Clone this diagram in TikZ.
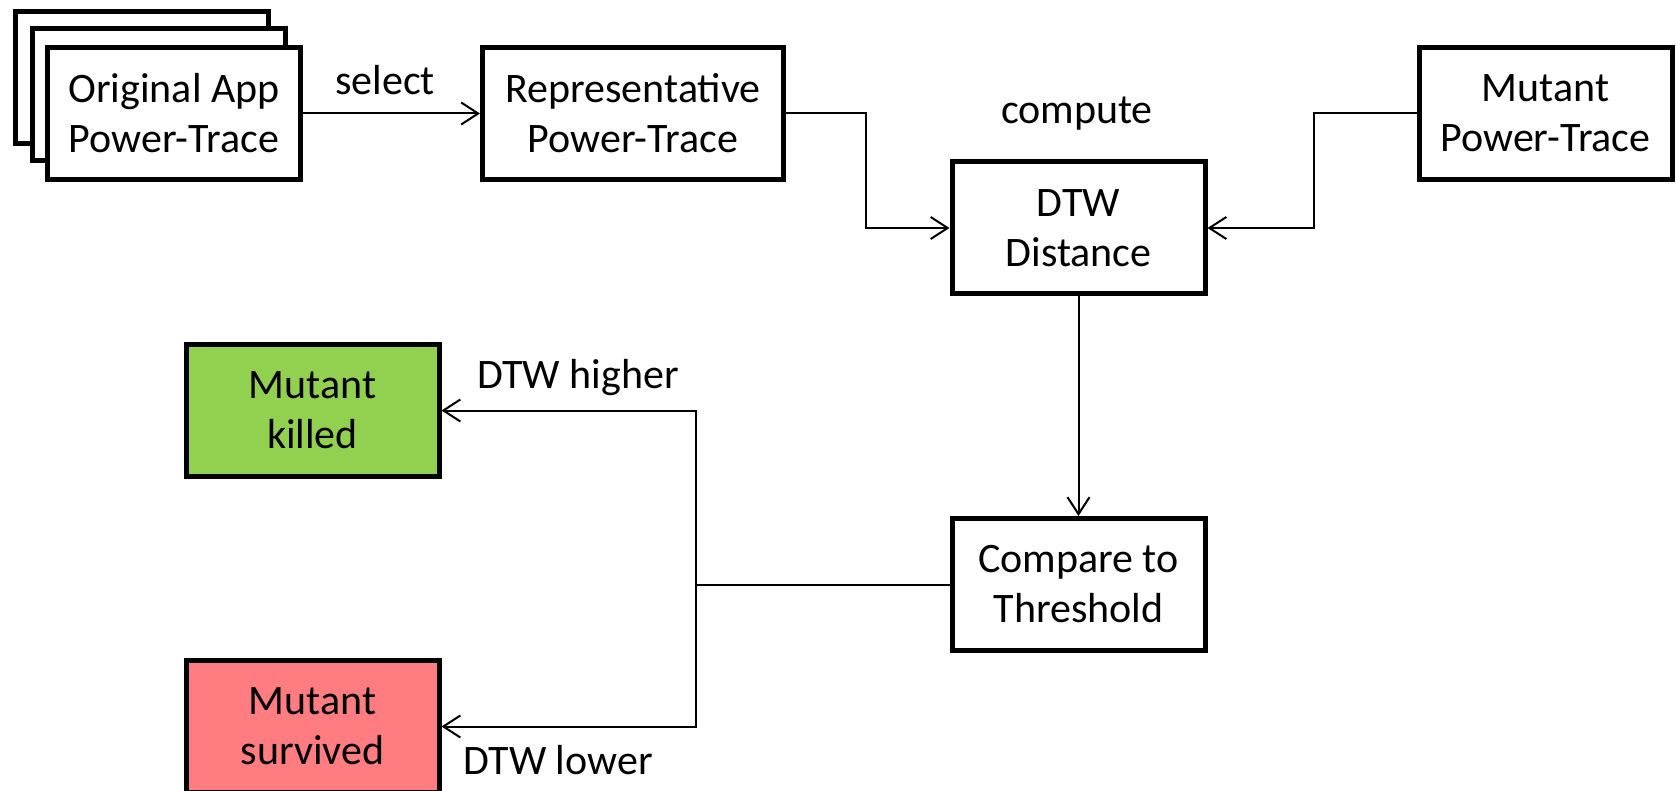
\documentclass[tikz,border=0pt]{standalone}
\usepackage{fontspec}
\setmainfont{Carlito}
\usetikzlibrary{arrows.meta}
\definecolor{killgreen}{HTML}{92D050}
\definecolor{survred}{HTML}{FF7C80}
\tikzset{
  box/.style={draw, line width=2.5pt, minimum width=126.5pt, minimum height=66pt,
    align=center, inner sep=0pt, fill=white, font=\fontsize{21}{25}\selectfont},
  flow/.style={line width=1pt, -{Straight Barb[length=8.5pt,width=11pt]}},
  link/.style={line width=1pt},
  lbl/.style={anchor=base, inner sep=0pt, font=\fontsize{21}{25}\selectfont},
}
\begin{document}
\begin{tikzpicture}[x=0.5pt,y=-0.5pt]
\useasboundingbox (0,0) rectangle (1676,791);
\clip (0,0) rectangle (1676,791);
% stacked set of original traces
\node[box] (orig3) at (142,77.5) {};
\node[box] (orig2) at (159,94.5) {};
\node[box] (orig) at (174,113.5) {Original App\\Power-Trace};
\node[box, minimum width=150.5pt] (rep) at (633,113.5) {Representative\\Power-Trace};
\node[box] (mut) at (1545.5,113.5) {Mutant\\Power-Trace};
\node[box] (dtw) at (1078.5,228) {DTW\\Distance};
\node[box] (cmp) at (1078.5,584.5) {Compare to\\Threshold};
\node[box, fill=killgreen] (killed) at (312.5,410.5) {Mutant\\killed};
\node[box, fill=survred] (surv) at (312.5,726.5) {Mutant\\survived};

% connectors
\draw[flow] (orig) -- (rep);
\draw[flow] (rep.east) -- ++(80,0) |- (dtw.west);
\draw[flow] (mut.west) -- ++(-103,0) |- (dtw.east);
\draw[flow] (dtw) -- (cmp);
\coordinate (split) at (696,584.5);
\draw[link] (cmp.west) -- (split);
\draw[flow] (split) |- (killed.east);
\draw[flow] (split) |- (surv.east);

% labels
\node[lbl] (select) at (385,95) {select};
\node[lbl] (compute) at (1077,124) {compute};
\node[lbl] (hi) at (578,388) {DTW higher};
\node[lbl] (lo) at (558,774) {DTW lower};
\end{tikzpicture}
\end{document}
